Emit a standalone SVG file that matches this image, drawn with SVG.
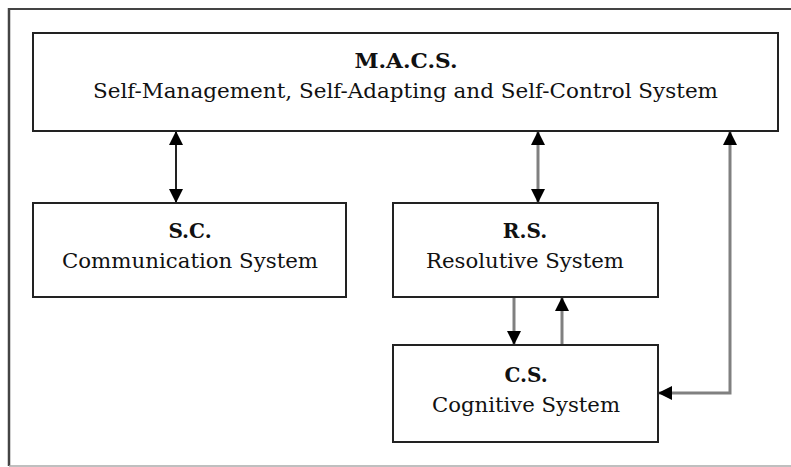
<svg xmlns="http://www.w3.org/2000/svg" width="791" height="467" viewBox="0 0 791 467">
  <style>
    .box { fill: #ffffff; stroke: #222222; stroke-width: 2; }
    .title { font-family: "DejaVu Serif", "Liberation Serif", serif; font-weight: bold; font-size: 20px; fill: #111111; text-anchor: middle; }
    .sub { font-family: "DejaVu Serif", "Liberation Serif", serif; font-size: 20px; fill: #111111; text-anchor: middle; }
    .dark { stroke: #222222; stroke-width: 2; fill: none; }
    .grey { stroke: #808080; stroke-width: 3; fill: none; }
  </style>
  <defs>
    <marker id="head" viewBox="0 0 14 14" refX="13" refY="7" markerWidth="14" markerHeight="14" markerUnits="userSpaceOnUse" orient="auto-start-reverse">
      <path d="M0,0 L14,7 L0,14 Z" fill="#000000"/>
    </marker>
  </defs>
  <rect width="791" height="467" fill="#ffffff"/>

  <!-- outer frame: top and left dark, bottom light -->
  <g id="frame">
    <line x1="9" y1="9" x2="791" y2="9" stroke="#444444" stroke-width="2"/>
    <line x1="9" y1="8" x2="9" y2="466" stroke="#444444" stroke-width="2.5"/>
    <line x1="9" y1="466" x2="791" y2="466" stroke="#aaaaaa" stroke-width="1.5"/>
  </g>

  <g id="connectors">
    <line class="dark" x1="176" y1="132" x2="176" y2="202" marker-start="url(#head)" marker-end="url(#head)"/>
    <line class="grey" x1="538" y1="132" x2="538" y2="202" marker-start="url(#head)" marker-end="url(#head)"/>
    <line class="grey" x1="514" y1="298" x2="514" y2="344" marker-end="url(#head)"/>
    <line class="grey" x1="562" y1="345" x2="562" y2="298" marker-end="url(#head)"/>
    <path class="grey" d="M659,393 L730,393 L730,132" marker-start="url(#head)" marker-end="url(#head)"/>
  </g>

  <g id="macs">
    <rect class="box" x="33" y="33" width="745" height="98"/>
    <text class="title" x="406" y="68" textLength="103" lengthAdjust="spacingAndGlyphs">M.A.C.S.</text>
    <text class="sub" x="405.5" y="98" textLength="625" lengthAdjust="spacingAndGlyphs">Self-Management, Self-Adapting and Self-Control System</text>
  </g>

  <g id="sc">
    <rect class="box" x="33" y="203" width="313" height="94"/>
    <text class="title" x="190" y="238">S.C.</text>
    <text class="sub" x="190" y="268" textLength="256" lengthAdjust="spacingAndGlyphs">Communication System</text>
  </g>

  <g id="rs">
    <rect class="box" x="393" y="203" width="265" height="94"/>
    <text class="title" x="525" y="238">R.S.</text>
    <text class="sub" x="525" y="268" textLength="198" lengthAdjust="spacingAndGlyphs">Resolutive System</text>
  </g>

  <g id="cs">
    <rect class="box" x="393" y="345" width="265" height="97"/>
    <text class="title" x="526" y="382">C.S.</text>
    <text class="sub" x="526" y="412" textLength="188" lengthAdjust="spacingAndGlyphs">Cognitive System</text>
  </g>
</svg>
